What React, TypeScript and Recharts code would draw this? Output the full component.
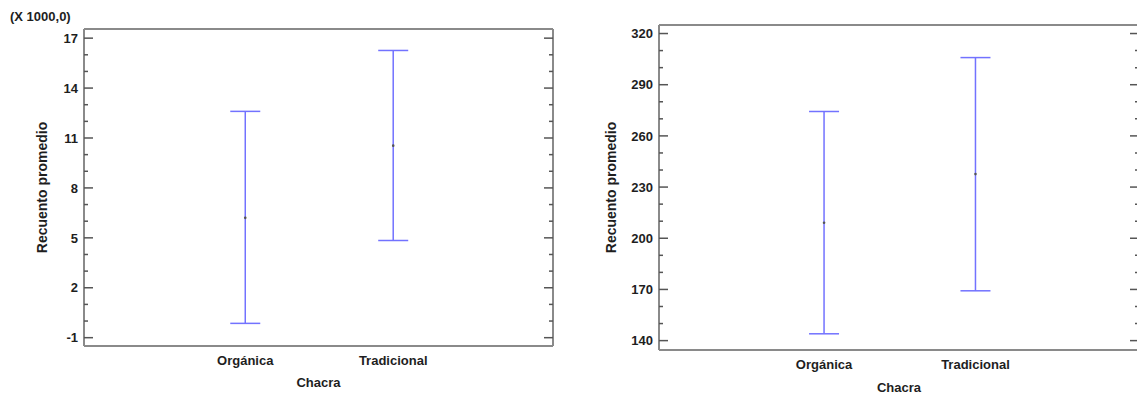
import React from 'react';
import { ScatterChart, Scatter, XAxis, YAxis, ErrorBar, Label } from 'recharts';

// ---- data ----
const categories = ['Orgánica', 'Tradicional'];

const leftMeans = [6.2, 10.54];
const leftLower = [-0.14, 4.84];
const leftUpper = [12.6, 16.26];
const leftMajorTicks = [-1, 2, 5, 8, 11, 14, 17];
const leftMinorTicks = [0, 1, 3, 4, 6, 7, 9, 10, 12, 13, 15, 16];
const leftDomain = [-1.5, 17.55];
const leftScaleNote = '(X 1000,0)';

const rightMeans = [209.1, 237.6];
const rightLower = [144, 169.2];
const rightUpper = [274.3, 305.9];
const rightMajorTicks = [140, 170, 200, 230, 260, 290, 320];
const rightMinorTicks = [150, 160, 180, 190, 210, 220, 240, 250, 270, 280, 300, 310];
const rightDomain = [134.5, 325];

const xDomain = [-0.09, 3.08];
const yTitle = 'Recuento promedio';
const xTitle = 'Chacra';

// ---- style ----
const FONT = '"Liberation Sans", Arial, Helvetica, sans-serif';
const TEXT = '#1e1e1e';
const FRAME = '#8a8a8a';
const TICK = '#555555';
const BAR = '#7272ff';

function buildData(means: number[], lower: number[], upper: number[]) {
  return categories.map((name, i) => ({
    name,
    pos: i + 1,
    mean: means[i],
    err: [means[i] - lower[i], upper[i] - means[i]],
  }));
}

function LeftTick(props: any) {
  const { x, y, payload, majors, gap } = props;
  const isMajor = majors.includes(payload.value);
  const ax = x + gap;
  return (
    <g>
      <line x1={ax} x2={ax + (isMajor ? 9 : 4)} y1={y} y2={y} stroke={TICK} strokeWidth={1.5} />
      {isMajor && (
        <text
          x={x}
          y={y}
          dy="0.36em"
          textAnchor="end"
          fontFamily={FONT}
          fontWeight="bold"
          fontSize={13}
          fill={TEXT}
        >
          {payload.value}
        </text>
      )}
    </g>
  );
}

function RightTick(props: any) {
  const { x, y, payload, majors } = props;
  const isMajor = majors.includes(payload.value);
  return (
    <line x1={x} x2={x - (isMajor ? 9 : 4)} y1={y} y2={y} stroke={TICK} strokeWidth={1.5} />
  );
}

const Dot = (p: any) => <circle cx={p.cx} cy={p.cy} r={1.3} fill="#555" />;

interface PanelProps {
  width: number;
  height: number;
  margin: { top: number; right: number; bottom: number; left: number };
  yAxisWidth: number;
  xAxisHeight: number;
  titleOffset: number;
  yTitleShift: number;
  means: number[];
  lower: number[];
  upper: number[];
  majors: number[];
  minors: number[];
  domain: number[];
}

function Panel(props: PanelProps) {
  const data = buildData(props.means, props.lower, props.upper);
  const ticks = [...props.majors, ...props.minors].sort((a, b) => a - b);
  return (
    <ScatterChart width={props.width} height={props.height} margin={props.margin}>
      <XAxis
        xAxisId="b"
        dataKey="pos"
        type="number"
        domain={xDomain}
        allowDataOverflow
        ticks={[1, 2]}
        tickFormatter={(v: number) => categories[v - 1] ?? ''}
        tickLine={false}
        tickSize={0}
        tickMargin={10}
        height={props.xAxisHeight}
        axisLine={{ stroke: FRAME, strokeWidth: 2 }}
        tick={{ fontFamily: FONT, fontWeight: 'bold', fontSize: 13, fill: TEXT }}
      >
        <Label
          value={xTitle}
          position="insideBottom"
          offset={props.titleOffset}
          style={{ fontFamily: FONT, fontWeight: 'bold', fontSize: 13, fill: TEXT }}
        />
      </XAxis>
      <XAxis
        xAxisId="t"
        orientation="top"
        type="number"
        domain={xDomain}
        allowDataOverflow
        height={1}
        tick={false}
        tickLine={false}
        axisLine={{ stroke: FRAME, strokeWidth: 2 }}
      />
      <YAxis
        yAxisId="l"
        dataKey="mean"
        type="number"
        domain={props.domain}
        allowDataOverflow
        ticks={ticks}
        interval={0}
        width={props.yAxisWidth}
        tickLine={false}
        tickSize={0}
        tickMargin={6}
        axisLine={{ stroke: FRAME, strokeWidth: 2 }}
        tick={(p: any) => <LeftTick {...p} majors={props.majors} gap={6} />}
      >
        <Label
          value={yTitle}
          angle={-90}
          position="center"
          dx={props.yTitleShift}
          style={{ fontFamily: FONT, fontWeight: 'bold', fontSize: 14, fill: TEXT }}
        />
      </YAxis>
      <YAxis
        yAxisId="r"
        orientation="right"
        type="number"
        domain={props.domain}
        allowDataOverflow
        ticks={ticks}
        interval={0}
        width={1}
        tickLine={false}
        tickSize={0}
        tickMargin={0}
        axisLine={{ stroke: FRAME, strokeWidth: 2 }}
        tick={(p: any) => <RightTick {...p} majors={props.majors} />}
      />
      <Scatter
        data={data}
        xAxisId="b"
        yAxisId="l"
        dataKey="mean"
        shape={Dot}
        isAnimationActive={false}
      >
        <ErrorBar
          dataKey="err"
          direction="y"
          width={15}
          stroke={BAR}
          strokeWidth={1.5}
          isAnimationActive={false}
        />
      </Scatter>
    </ScatterChart>
  );
}

export default function App() {
  return (
    <div
      style={{
        position: 'absolute',
        left: 0,
        top: 0,
        width: 1137,
        height: 397,
        overflow: 'hidden',
        background: '#fff',
      }}
    >
      <div
        style={{
          position: 'absolute',
          left: 10,
          top: 10,
          fontFamily: FONT,
          fontWeight: 'bold',
          fontSize: 13,
          lineHeight: '13px',
          color: TEXT,
          whiteSpace: 'nowrap',
        }}
      >
        {leftScaleNote}
      </div>
      <div style={{ position: 'absolute', left: 0, top: 0 }}>
        <Panel
          width={570}
          height={397}
          margin={{ top: 28, right: 16, bottom: 0, left: 8 }}
          yAxisWidth={76}
          xAxisHeight={51}
          titleOffset={10}
          yTitleShift={-4}
          means={leftMeans}
          lower={leftLower}
          upper={leftUpper}
          majors={leftMajorTicks}
          minors={leftMinorTicks}
          domain={leftDomain}
        />
      </div>
      <div style={{ position: 'absolute', left: 567, top: 0 }}>
        <Panel
          width={573}
          height={397}
          margin={{ top: 24, right: 0, bottom: 0, left: 2 }}
          yAxisWidth={90}
          xAxisHeight={47}
          titleOffset={5.5}
          yTitleShift={-3}
          means={rightMeans}
          lower={rightLower}
          upper={rightUpper}
          majors={rightMajorTicks}
          minors={rightMinorTicks}
          domain={rightDomain}
        />
      </div>
    </div>
  );
}
